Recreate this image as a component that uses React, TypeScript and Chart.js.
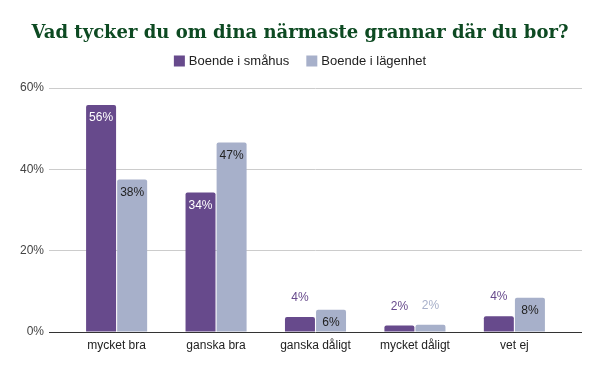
import React, { useEffect, useRef } from "react";
import { Chart, registerables } from "chart.js";

Chart.register(...registerables);

const categories = ["mycket bra", "ganska bra", "ganska dåligt", "mycket dåligt", "vet ej"];
const seriesNames = ["Boende i småhus", "Boende i lägenhet"];
const smahus = [55.8, 34.3, 3.7, 1.6, 3.9];
const lagenhet = [37.5, 46.6, 5.5, 1.8, 8.4];
const yTicks = [0, 20, 40, 60];
const titleText = "Vad tycker du om dina närmaste grannar där du bor?";
const colors = ["#674a8c", "#a7b0ca"];
const insideTextColors = ["#ffffff", "#222222"];
const sans = "'Liberation Sans', Arial, sans-serif";

const labelPlugin = {
  id: "barLabels",
  afterDatasetsDraw(chart: any) {
    const ctx = chart.ctx;
    ctx.save();
    ctx.font = "12px " + sans;
    ctx.textAlign = "center";
    ctx.textBaseline = "middle";
    chart.data.datasets.forEach((ds: any, di: number) => {
      const meta = chart.getDatasetMeta(di);
      meta.data.forEach((bar: any, i: number) => {
        const v = ds.data[i].y;
        const txt = Math.round(v) + "%";
        if (v >= 5) {
          ctx.fillStyle = insideTextColors[di];
          ctx.fillText(txt, bar.x, bar.y + 13);
        } else {
          ctx.fillStyle = colors[di];
          ctx.fillText(txt, bar.x, bar.y - 19);
        }
      });
    });
    ctx.restore();
  },
};

const headerPlugin = {
  id: "header",
  afterDraw(chart: any) {
    const ctx = chart.ctx;
    const W = chart.width;
    ctx.save();
    ctx.font = "bold 18px 'DejaVu Serif', Georgia, serif";
    ctx.fillStyle = "#0d4a22";
    ctx.textAlign = "center";
    ctx.textBaseline = "alphabetic";
    ctx.fillText(titleText, W / 2, 38);

    ctx.font = "13px " + sans;
    const box = 11;
    const gapText = 4;
    const gapItem = 17;
    const widths = seriesNames.map((s) => ctx.measureText(s).width);
    const total = widths.reduce((a, w) => a + box + gapText + w, 0) + gapItem * (seriesNames.length - 1);
    let x = W / 2 - total / 2;
    const cy = 61;
    ctx.textAlign = "left";
    ctx.textBaseline = "middle";
    seriesNames.forEach((s, i) => {
      ctx.fillStyle = colors[i];
      ctx.fillRect(x, cy - box / 2, box, box);
      x += box + gapText;
      ctx.fillStyle = "#222222";
      ctx.fillText(s, x, cy);
      x += widths[i] + gapItem;
    });
    ctx.restore();
  },
};

export default function App() {
  const ref = useRef<HTMLCanvasElement | null>(null);
  useEffect(() => {
    if (!ref.current) return;
    const chart = new Chart(ref.current, {
      type: "bar",
      data: {
        datasets: [smahus, lagenhet].map((arr, di) => ({
          label: seriesNames[di],
          data: arr.map((y, i) => ({ x: i, y })),
          backgroundColor: colors[di],
          borderRadius: 2,
          borderSkipped: "start",
          categoryPercentage: 0.625,
          barPercentage: 0.965,
        })),
      },
      options: {
        animation: false,
        responsive: false,
        maintainAspectRatio: false,
        layout: { padding: { top: 88, right: 18, bottom: 0, left: 0 } },
        plugins: {
          title: { display: false },
          legend: { display: false },
          tooltip: { enabled: false },
        },
        scales: {
          x: {
            type: "linear",
            offset: false,
            min: -0.68,
            max: 4.68,
            grid: { display: false, drawTicks: false },
            border: { display: false },
            afterBuildTicks: (scale: any) => {
              scale.ticks = categories.map((_, i) => ({ value: i }));
            },
            afterFit: (scale: any) => {
              scale.height = 39;
            },
            ticks: {
              autoSkip: false,
              maxRotation: 0,
              color: "#222222",
              font: { family: sans, size: 12 },
              padding: 6,
              callback: (v: any) => categories[v] ?? "",
            },
          },
          y: {
            min: 0,
            max: 60,
            afterBuildTicks: (scale: any) => {
              scale.ticks = yTicks.map((v) => ({ value: v }));
            },
            afterFit: (scale: any) => {
              scale.width = 49;
            },
            border: { display: false },
            grid: {
              drawTicks: false,
              color: (c: any) => (c.tick && c.tick.value === 0 ? "#333333" : "#cccccc"),
              lineWidth: 1,
            },
            ticks: {
              color: "#444444",
              font: { family: sans, size: 12 },
              padding: 5,
              callback: (v: any) => v + "%",
            },
          },
        },
      } as any,
      plugins: [labelPlugin, headerPlugin],
    });
    return () => chart.destroy();
  }, []);
  return (
    <div style={{ position: "fixed", left: 0, top: 0, width: 600, height: 371, background: "#fff" }}>
      <canvas ref={ref} width={600} height={371} style={{ width: 600, height: 371 }} />
    </div>
  );
}
